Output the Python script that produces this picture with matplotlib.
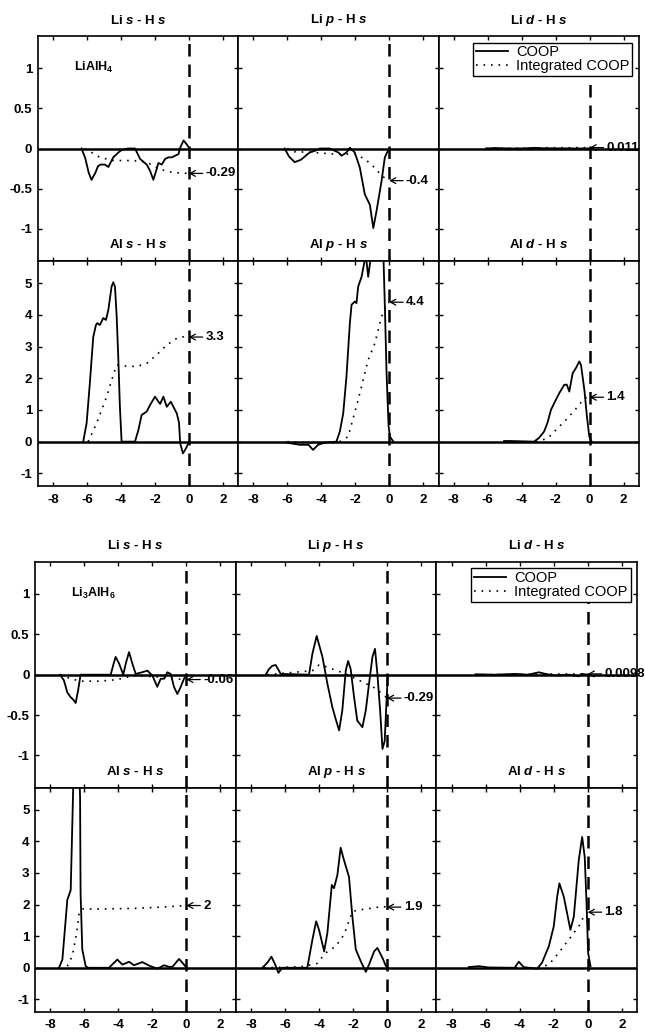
import matplotlib
matplotlib.use('Agg')
import matplotlib.pyplot as plt

plt.rcParams['font.family'] = ['Liberation Sans', 'DejaVu Sans']
plt.rcParams['font.weight'] = 'bold'
plt.rcParams['axes.unicode_minus'] = False
plt.rcParams['mathtext.fontset'] = 'custom'
plt.rcParams['mathtext.rm'] = 'Liberation Sans:bold'
plt.rcParams['mathtext.it'] = 'Liberation Sans:italic:bold'
plt.rcParams['mathtext.bf'] = 'Liberation Sans:bold'

# ---- data: energy (eV) and COOP values ----
# LiAlH4
p1_E = [-6.32, -6.1, -5.9, -5.73, -5.5, -5.35, -5.2, -4.94, -4.74, -4.45, -4.15, -3.96, -3.6, -3.17,
        -2.87, -2.48, -2.28, -2.09, -1.93, -1.79, -1.59, -1.40, -1.20, -1.0, -0.81, -0.61, -0.51,
        -0.31, -0.12, 0.04]
p1_coop = [0, -0.12, -0.3, -0.39, -0.3, -0.22, -0.2, -0.2, -0.23, -0.11, -0.05, -0.02, 0.0, 0,
           -0.13, -0.2, -0.28, -0.39, -0.28, -0.18, -0.2, -0.13, -0.11, -0.11, -0.09, -0.07, 0.01,
           0.1, 0.05, 0]
p1_iE = [-6.12, -5.24, -4.45, -3.27, -2.48, -1.69, -0.91, 0]
p1_icoop = [0, -0.11, -0.15, -0.15, -0.17, -0.26, -0.3, -0.31]

p2_E = [-6.16, -5.9, -5.57, -5.2, -4.69, -4.39, -4.09, -3.5, -2.99, -2.81, -2.52, -2.32, -2.03,
        -1.73, -1.44, -1.14, -0.94, -0.75, -0.45, -0.26, -0.06, 0.04]
p2_coop = [0, -0.1, -0.17, -0.14, -0.05, -0.03, 0, 0, -0.05, -0.09, -0.05, 0.01, -0.05, -0.24,
           -0.57, -0.7, -0.99, -0.78, -0.4, -0.11, -0.02, 0]
p2_iE = [-6.0, -5.6, -4.39, -3.21, -2.03, -1.44, -0.85, -0.45, 0]
p2_icoop = [0, -0.04, -0.05, -0.07, -0.07, -0.13, -0.24, -0.34, -0.4]

p3_E = [-6.1, -5.8, -5.5, -5.2, -4.5, -3.8, -3.5, -3.2, -2.9, -2.0, -1.0, 0]
p3_coop = [0, 0.004, 0.006, 0.003, 0.0, 0.002, 0.006, 0.008, 0.004, 0.002, 0.001, 0]
p3_iE = [-6.1, -4.0, -2.5, 0]
p3_icoop = [0, 0.004, 0.009, 0.011]

p4_E = [-6.22, -6.02, -5.83, -5.63, -5.47, -5.39, -5.24, -5.04, -4.88, -4.74, -4.55, -4.45, -4.35,
        -4.25, -4.15, -4.06, -3.96, -3.17, -2.97, -2.78, -2.48, -2.28, -1.99, -1.79, -1.69, -1.5,
        -1.3, -1.06, -0.91, -0.71, -0.58, -0.51, -0.35, -0.22, -0.12, 0]
p4_coop = [0, 0.58, 1.84, 3.3, 3.68, 3.74, 3.68, 3.9, 3.84, 4.16, 4.89, 5.03, 4.89, 3.95, 2.58,
           1.1, 0, 0, 0.37, 0.84, 0.95, 1.16, 1.42, 1.26, 1.19, 1.42, 1.1, 1.26, 1.1, 0.89, 0.6,
           -0.05, -0.37, -0.26, -0.16, 0]
p4_iE = [-5.93, -5.43, -4.84, -4.45, -4.25, -3.86, -3.07, -2.48, -1.89, -1.3, -0.71, -0.22, 0]
p4_icoop = [0, 0.58, 1.42, 2.1, 2.42, 2.39, 2.37, 2.47, 2.74, 3.05, 3.26, 3.32, 3.3]

p5_E = [-6.06, -5.28, -4.75, -4.49, -4.19, -3.8, -3.11, -2.91, -2.71, -2.52, -2.32, -2.22, -2.03,
        -1.93, -1.83, -1.63, -1.48, -1.38, -1.24, -1.14, -1.0, -0.7, -0.35, -0.26, -0.16, -0.04,
        0.04, 0.24]
p5_coop = [-0.03, -0.1, -0.1, -0.26, -0.1, -0.03, 0, 0.32, 0.89, 2.05, 3.73, 4.32, 4.42, 4.37,
           4.89, 5.2, 5.62, 5.9, 5.2, 5.6, 6.0, 6.3, 6.0, 4.3, 2.2, 0.5, 0.16, 0]
p5_iE = [-6.0, -4.39, -3.01, -2.42, -1.83, -1.24, -0.85, -0.45, -0.16, 0]
p5_icoop = [0, -0.05, -0.03, 0.16, 1.32, 2.58, 3.1, 3.95, 4.32, 4.4]

p6_E = [-5.04, -4.65, -3.27, -2.98, -2.68, -2.48, -2.28, -2.09, -1.79, -1.5, -1.35, -1.2, -1.0,
        -0.81, -0.61, -0.51, -0.31, -0.16, -0.02, 0.12]
p6_coop = [0.02, 0.02, 0, 0.12, 0.32, 0.6, 1.0, 1.21, 1.53, 1.79, 1.8, 1.58, 2.16, 2.32, 2.53,
           2.42, 1.63, 0.79, 0.16, 0]
p6_iE = [-3.17, -2.48, -1.89, -1.30, -0.71, -0.31, 0]
p6_icoop = [0, 0.1, 0.42, 0.74, 1.1, 1.37, 1.4]

# Li3AlH6
p7_E = [-7.43, -7.2, -7.0, -6.8, -6.65, -6.51, -6.37, -6.22, -4.45, -4.3, -4.16, -3.96, -3.71,
        -3.55, -3.37, -3.18, -2.98, -2.69, -2.29, -2.0, -1.71, -1.51, -1.31, -1.12, -0.92, -0.73,
        -0.53, -0.33, -0.14, 0]
p7_coop = [0, -0.07, -0.22, -0.28, -0.31, -0.35, -0.2, 0, 0, 0.12, 0.22, 0.14, 0, 0.15, 0.28,
           0.14, 0.01, 0.025, 0.05, -0.01, -0.15, -0.05, -0.05, 0.03, 0.01, -0.15, -0.24, -0.15,
           -0.05, 0]
p7_iE = [-7.4, -6.8, -6.22, -5.04, -4.06, -3.08, -2.29, -1.51, -0.73, 0]
p7_icoop = [0, -0.05, -0.08, -0.08, -0.06, -0.01, -0.02, -0.03, -0.05, -0.06]

p8_E = [-7.14, -6.94, -6.75, -6.55, -6.25, -4.59, -4.39, -4.14, -3.8, -3.51, -3.22, -3.02, -2.82,
        -2.63, -2.43, -2.29, -2.14, -1.94, -1.75, -1.45, -1.25, -1.06, -0.86, -0.71, -0.57, -0.41,
        -0.27, -0.14, -0.04, 0.04]
p8_coop = [0, 0.07, 0.11, 0.12, 0.01, 0, 0.26, 0.48, 0.22, -0.11, -0.4, -0.55, -0.69, -0.44, 0.05,
           0.17, 0.07, -0.28, -0.57, -0.65, -0.44, -0.11, 0.22, 0.32, 0.01, -0.44, -0.92, -0.82,
           -0.36, -0.01]
p8_iE = [-7.04, -4.39, -4.0, -3.6, -2.43, -1.84, -1.25, -0.67, -0.27, 0]
p8_icoop = [0, 0.05, 0.12, 0.1, 0.01, -0.05, -0.11, -0.17, -0.24, -0.29]

p9_E = [-6.6, -5.5, -4.25, -3.5, -2.88, -2.49, -1.9, -1.12, -0.53, -0.33, 0]
p9_coop = [0.005, 0.0, 0.01, 0.0, 0.03, 0.01, -0.01, 0, -0.02, 0.01, 0]
p9_iE = [-6.6, -4.0, -2.0, 0]
p9_icoop = [0, 0.003, 0.008, 0.0098]

p10_E = [-7.49, -7.29, -7.0, -6.8, -6.65, -6.5, -6.31, -6.25, -6.22, -6.12, -5.92, -5.78, -4.55,
         -4.06, -3.76, -3.37, -3.08, -2.59, -2.2, -1.71, -1.31, -1.02, -0.82, -0.43, -0.14, 0]
p10_coop = [0, 0.26, 2.15, 2.46, 5.8, 8.0, 6.5, 5.4, 2.36, 0.58, 0.05, 0, 0, 0.26, 0.1, 0.19,
            0.08, 0.18, 0.07, -0.03, 0.08, 0.03, 0.03, 0.28, 0.1, 0]
p10_iE = [-7.0, -6.71, -6.45, -6.31, -6.12, -5.04, -3.08, -1.51, 0]
p10_icoop = [0.05, 0.37, 1.1, 1.73, 1.86, 1.86, 1.88, 1.92, 1.97]

p11_E = [-7.33, -7.04, -6.8, -6.61, -6.39, -6.16, -4.69, -4.39, -4.17, -4.0, -3.7, -3.51, -3.25,
         -3.12, -2.92, -2.73, -2.53, -2.24, -2.04, -1.84, -1.55, -1.25, -1.06, -0.76, -0.57,
         -0.27, -0.08, 0.04]
p11_coop = [0, 0.16, 0.35, 0.14, -0.16, 0, 0, 0.89, 1.47, 1.2, 0.52, 1.1, 2.62, 2.52, 2.94, 3.8,
            3.4, 2.88, 1.62, 0.58, 0.21, -0.13, 0.1, 0.52, 0.63, 0.31, 0.07, 0]
p11_iE = [-7.24, -5.08, -4.1, -3.61, -3.02, -2.53, -2.04, -1.65, -0.86, -0.27, 0]
p11_icoop = [0, 0.03, 0.14, 0.47, 0.68, 1.05, 1.78, 1.83, 1.89, 1.94, 1.92]

p12_E = [-7.0, -6.41, -5.82, -4.3, -4.06, -3.76, -2.98, -2.69, -2.29, -2.0, -1.8, -1.67, -1.41,
         -1.02, -0.82, -0.53, -0.33, -0.18, -0.08, 0.02, 0.16]
p12_coop = [0.02, 0.05, 0.01, 0, 0.19, 0.02, -0.03, 0.16, 0.68, 1.31, 2.25, 2.67, 2.25, 1.2,
            1.62, 3.41, 4.14, 3.51, 2.15, 0.47, 0.05]
p12_iE = [-4.25, -2.88, -2.29, -1.71, -1.12, -0.53, -0.24, 0]
p12_icoop = [0, 0, 0.1, 0.47, 0.89, 1.31, 1.62, 1.76]

titles = [r'Li $\mathit{s}$ - H $\mathit{s}$', r'Li $\mathit{p}$ - H $\mathit{s}$',
          r'Li $\mathit{d}$ - H $\mathit{s}$', r'Al $\mathit{s}$ - H $\mathit{s}$',
          r'Al $\mathit{p}$ - H $\mathit{s}$', r'Al $\mathit{d}$ - H $\mathit{s}$']
compounds = [r'LiAlH$_4$', r'Li$_3$AlH$_6$']
end_labels = [['-0.29', '-0.4', '0.011', '3.3', '4.4', '1.4'],
              ['-0.06', '-0.29', '0.0098', '2', '1.9', '1.8']]

xticks = [-8, -6, -4, -2, 0, 2]
xticklabels = ['-8', '-6', '-4', '-2', '0', '2']
yticks_li = [-1, -0.5, 0, 0.5, 1]
yticklabels_li = ['-1', '-0.5', '0', '0.5', '1']
yticks_al = [-1, 0, 1, 2, 3, 4, 5]
yticklabels_al = ['-1', '0', '1', '2', '3', '4', '5']

curves = [
    [(p1_E, p1_coop, p1_iE, p1_icoop), (p2_E, p2_coop, p2_iE, p2_icoop),
     (p3_E, p3_coop, p3_iE, p3_icoop), (p4_E, p4_coop, p4_iE, p4_icoop),
     (p5_E, p5_coop, p5_iE, p5_icoop), (p6_E, p6_coop, p6_iE, p6_icoop)],
    [(p7_E, p7_coop, p7_iE, p7_icoop), (p8_E, p8_coop, p8_iE, p8_icoop),
     (p9_E, p9_coop, p9_iE, p9_icoop), (p10_E, p10_coop, p10_iE, p10_icoop),
     (p11_E, p11_coop, p11_iE, p11_icoop), (p12_E, p12_coop, p12_iE, p12_icoop)],
]

W, H = 645, 1034
fig = plt.figure(figsize=(W / 100, H / 100), dpi=100)

# pixel layout of the two blocks: left edge, column width, row tops, row heights
blocks = [
    (37.7, 200.4, [36, 261], [225, 225]),
    (35.0, 200.7, [561.7, 787.7], [226, 224.3]),
]

for b, (left, cw, tops, hts) in enumerate(blocks):
    for k in range(6):
        r, c = divmod(k, 3)
        x0 = left + c * cw
        ax = fig.add_axes([x0 / W, 1 - (tops[r] + hts[r]) / H, cw / W, hts[r] / H])
        E, coop, iE, icoop = curves[b][k]
        l1, = ax.plot(E, coop, color='black', lw=1.3, label='COOP')
        l2, = ax.plot(iE, icoop, color='black', lw=1.2, linestyle=(0, (1, 3.5)),
                      label='Integrated COOP')
        ax.axhline(0, color='black', lw=1.8)
        ax.axvline(0, color='black', lw=1.8, dashes=(5, 3.2))
        ax.set_xlim(-8.9, 2.9)
        ax.set_xticks(xticks)
        if r == 0:
            ax.set_ylim(-1.4, 1.4)
            ax.set_yticks(yticks_li)
            ax.set_yticklabels(yticklabels_li)
            ax.set_xticklabels([])
        else:
            ax.set_ylim(-1.4, 5.7)
            ax.set_yticks(yticks_al)
            ax.set_yticklabels(yticklabels_al)
            ax.set_xticklabels(xticklabels)
        if c > 0:
            ax.set_yticklabels([])
        ax.tick_params(direction='in', top=True, right=True, length=3, width=1,
                       labelsize=9.5, pad=4)
        ax.tick_params(axis='x', pad=6 if b == 0 else 5)
        for sp in ax.spines.values():
            sp.set_linewidth(1.2)
        ax.set_title(titles[k], fontsize=9.5, fontweight='bold', pad=9)
        ax.annotate(end_labels[b][k], xy=(0, icoop[-1]), xytext=(12, 0),
                    textcoords='offset points', ha='left', va='center', fontsize=9.5,
                    annotation_clip=False,
                    arrowprops=dict(arrowstyle='->,head_length=0.4,head_width=0.22',
                                    color='black', lw=0.9, shrinkA=0, shrinkB=0,
                                    relpos=(0, 0.5)))
        if k == 0:
            ax.text(0.18, 0.86, compounds[b], transform=ax.transAxes, fontsize=9,
                    ha='left', va='center')
        if k == 2:
            leg = ax.legend(handles=[l1, l2], loc='upper right', fancybox=False,
                            edgecolor='black', framealpha=1,
                            prop={'weight': 'normal', 'size': 10.5},
                            handlelength=2.2, borderaxespad=0.45, borderpad=0.2,
                            labelspacing=0.0, handletextpad=0.55)
            leg.get_frame().set_linewidth(1.0)

fig.savefig('out.png', dpi=100)
